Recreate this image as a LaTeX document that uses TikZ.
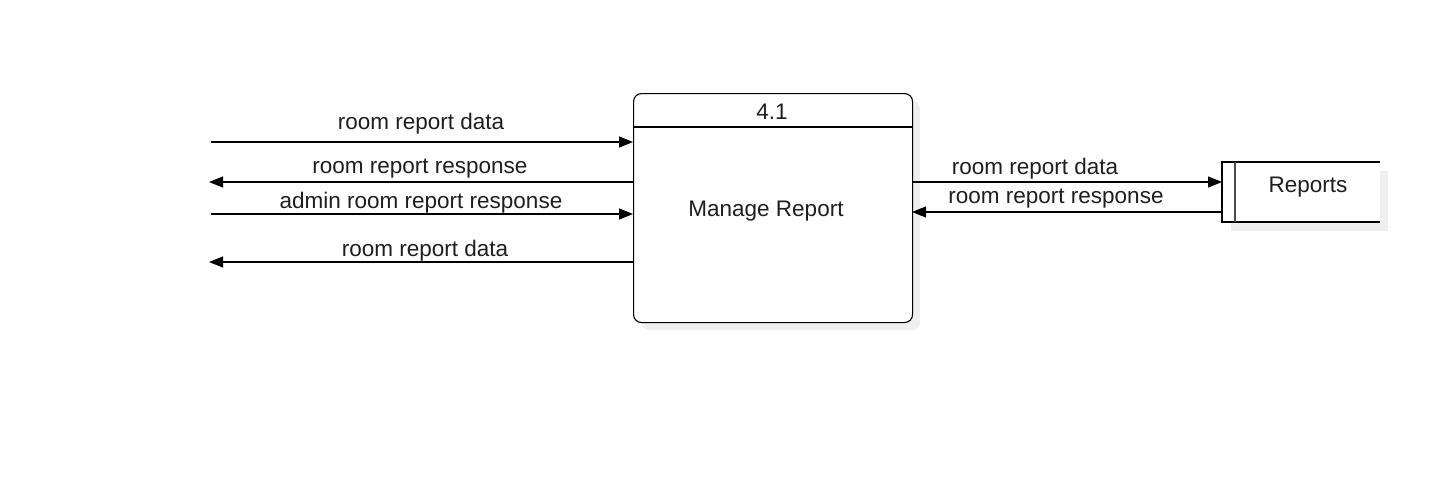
\documentclass[tikz,border=0pt]{standalone}
\usepackage{fontspec}
\setmainfont{Liberation Sans}
\usetikzlibrary{arrows.meta}
\definecolor{shadowgray}{HTML}{EFEFEF}
\definecolor{txt}{HTML}{1E1E1E}
\begin{document}
\begin{tikzpicture}[x=1pt,y=-1pt,
  lbl/.style={font=\fontsize{22.5}{27}\selectfont, text=txt, inner sep=0pt, anchor=center, yshift=-3pt},
  flow/.style={line width=1.1pt, -{Triangle[length=14pt,width=11pt]}},
  every node/.style={inner sep=0pt}]
\useasboundingbox (0,0) rectangle (1430,491);
% process shadow
\fill[shadowgray, rounded corners=8pt] (641,101) rectangle (920,330);
% process box
\node[draw, line width=1.1pt, fill=white, rounded corners=8pt, minimum width=279pt, minimum height=229pt, anchor=north west] (proc) at (633,93) {};
\coordinate (divL) at (633,127);
\coordinate (divR) at (912,127);
\draw[line width=1.1pt] (divL) -- (divR);
\node[lbl] (pid) at (772,109) {4.1};
\node[lbl] (pname) at (766,208) {Manage Report};
% store shadow and store
\fill[shadowgray] (1231,171) rectangle (1388,231);
\fill[white] (1222,162) rectangle (1380,222);
\coordinate (sTL) at (1222,162);
\coordinate (sTR) at (1380,162);
\coordinate (sBL) at (1222,222);
\coordinate (sBR) at (1380,222);
\coordinate (sIT) at (1235,162);
\coordinate (sIB) at (1235,222);
\draw[line width=1.1pt] (sTR) -- (sTL) -- (sBL) -- (sBR);
\draw[line width=1.1pt, draw=black!70] (sIT) -- (sIB);
\node[lbl] (store) at (1308,184) {Reports};
% connector end points
\coordinate (a1) at (211,142); \coordinate (b1) at (633,142);
\coordinate (a2) at (633,182); \coordinate (b2) at (209,182);
\coordinate (a3) at (211,214); \coordinate (b3) at (633,214);
\coordinate (a4) at (633,262); \coordinate (b4) at (209,262);
\coordinate (a5) at (912,182); \coordinate (b5) at (1222,182);
\coordinate (a6) at (1222,212); \coordinate (b6) at (912,212);
\draw[flow] (a1) -- (b1);
\draw[flow] (a2) -- (b2);
\draw[flow] (a3) -- (b3);
\draw[flow] (a4) -- (b4);
\draw[flow] (a5) -- (b5);
\draw[flow] (a6) -- (b6);
\node[lbl] (l1) at (421,121) {room report data};
\node[lbl] (l2) at (420,166) {room report response};
\node[lbl] (l3) at (421,200) {admin room report response};
\node[lbl] (l4) at (425,248) {room report data};
\node[lbl] (l5) at (1035,166) {room report data};
\node[lbl] (l6) at (1056,196) {room report response};
\end{tikzpicture}
\end{document}
